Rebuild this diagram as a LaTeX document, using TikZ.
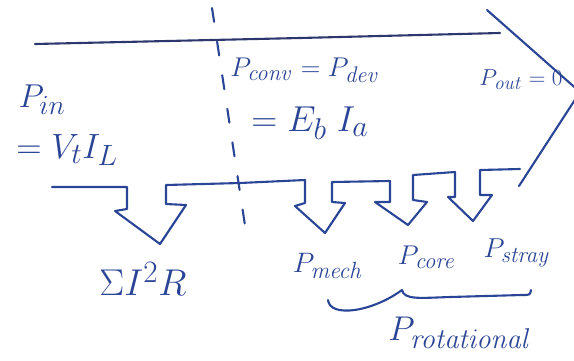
\documentclass[tikz,border=0pt]{standalone}
\usepackage{graphicx}
\usepackage{amsmath}
\definecolor{ink}{RGB}{42,68,150}
\definecolor{inkdark}{RGB}{45,55,110}
\begin{document}
\begin{tikzpicture}[x=1pt,y=-1pt,
  stroke/.style={draw=ink,line width=2.1pt,line join=round,line cap=round},
  lbl/.style={text=ink,inner sep=0pt,font=\fontsize{24.88}{28}\selectfont}]
\useasboundingbox (0,0) rectangle (574,360);
\clip (0,0) rectangle (574,360);
% top line and output chevron
\draw[stroke,draw=inkdark] (35,44) -- (300,38) -- (500,33);
\draw[stroke] (487,10) -- (580,92) -- (519,186);
% dashed boundary
\draw[stroke,dash pattern=on 14pt off 20pt] (212,8) -- (246,232);
% bottom outline with loss arrows
\draw[stroke] (52,187) -- (127,187) -- (127,209) -- (115,211)
  -- (160,244) -- (186,205) -- (166,204) -- (166,185)
  -- (240,183) -- (305,180)
  -- (305,203) -- (295,206) -- (325,233) -- (345,203) -- (332,202) -- (332,182)
  -- (390,181)
  -- (390,202) -- (375,202) -- (408,225) -- (427,202) -- (413,200) -- (413,175)
  -- (455,172)
  -- (455,197) -- (448,197) -- (473,221) -- (492,195) -- (480,195) -- (480,170)
  -- (520,169);
% brace
\draw[stroke] (328,300) .. controls (330,318) and (372,312) .. (402,290)
  .. controls (404,300) and (420,298) .. (450,297) -- (522,295)
  .. controls (530,295) .. (531,290);
% labels
\node[lbl] (pin) at (42,100) {\scalebox{1.33}{$P_{in}$}};
\node[lbl] (vtil) at (67,150) {\scalebox{1.41}{$=V_t I_L$}};
\node[lbl] (pconv) at (305,70) {\scalebox{1.09}{$P_{\mathit{conv}}=P_{\mathit{dev}}$}};
\node[lbl] (ebia) at (310,123) {\scalebox{1.45}{$=E_b\;I_a$}};
\node[lbl] (pout) at (521,80) {\scalebox{0.93}{$P_{\mathit{out}}=0$}};
\node[lbl] (cu) at (143,279) {\scalebox{1.5}{$\Sigma I^2 R$}};
\node[lbl] (pmech) at (328,266) {\scalebox{1.13}{$P_{\mathit{mech}}$}};
\node[lbl] (pcore) at (427,257) {\scalebox{1.09}{$P_{\mathit{core}}$}};
\node[lbl] (pstray) at (517,253) {\scalebox{1.1}{$P_{\mathit{stray}}$}};
\node[lbl] (prot) at (460,333) {\scalebox{1.38}{$P_{\mathit{rotational}}$}};
\end{tikzpicture}
\end{document}
